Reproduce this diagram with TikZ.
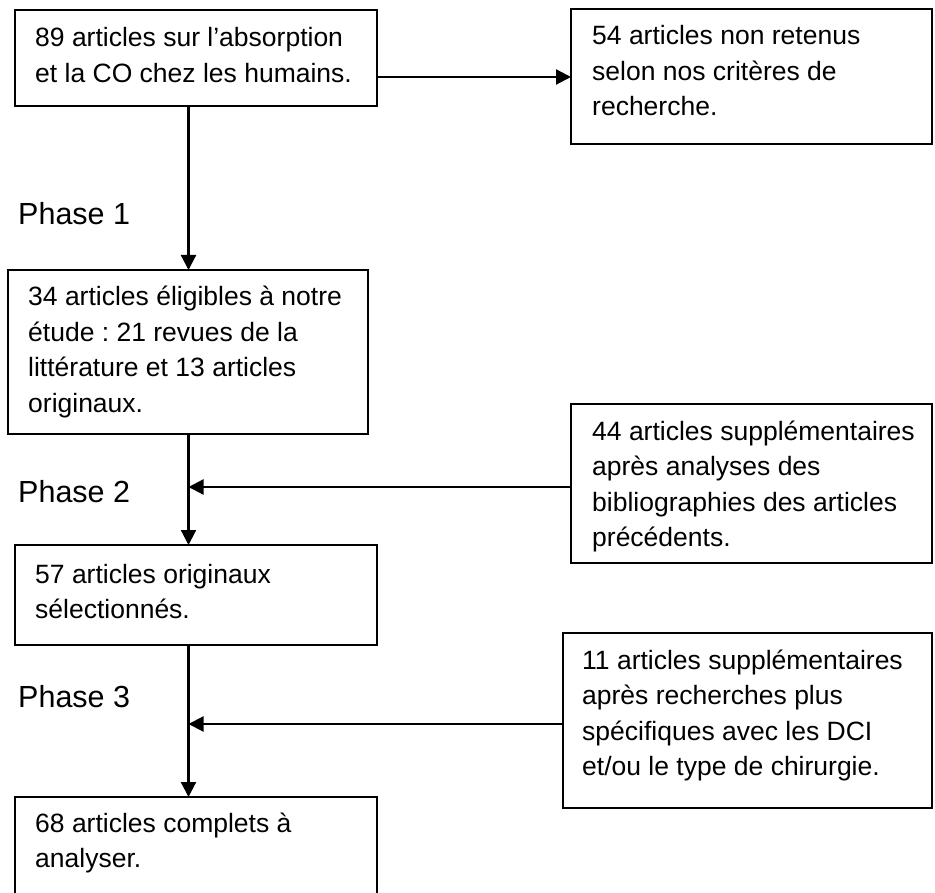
\documentclass[tikz,border=0pt]{standalone}
\usepackage{fontspec}
\setmainfont{Liberation Sans}
\usetikzlibrary{arrows.meta}
\frenchspacing
\begin{document}
\begin{tikzpicture}[x=1pt,y=-1pt,
  box/.style={draw, line width=2.2pt, anchor=north west, inner sep=0pt, outer sep=0pt},
  txt/.style={anchor=base west, inner sep=0pt, font=\fontsize{26.5}{35.5}\selectfont},
  phase/.style={anchor=base west, inner sep=0pt, font=\fontsize{30.5}{36}\selectfont},
  arr/.style={line width=2.2pt, -{Triangle[length=15pt,width=15pt]}}]
\useasboundingbox (0,0) rectangle (935,893);
\clip (0,0) rectangle (935,893);
% boxes
\node[box, minimum width=362pt, minimum height=96pt]  (A) at (15,10) {};
\node[box, minimum width=361pt, minimum height=135pt] (B) at (571,9) {};
\node[box, minimum width=360pt, minimum height=164pt] (C) at (8,270) {};
\node[box, minimum width=361pt, minimum height=159pt] (D) at (571,404) {};
\node[box, minimum width=362pt, minimum height=100pt] (E) at (15,545) {};
\node[box, minimum width=369pt, minimum height=175pt] (F) at (563,633) {};
\node[box, minimum width=362pt, minimum height=140pt] (G) at (15,797) {};
% texts
\node[txt] (tA) at (35,47) {\parbox[t]{360pt}{\raggedright 89 articles sur l’absorption\\et la CO chez les humains.}};
\node[txt] (tB) at (592,45) {\parbox[t]{340pt}{\raggedright 54 articles non retenus\\selon nos critères de\\recherche.}};
\node[txt] (tC) at (28,306) {\parbox[t]{360pt}{\raggedright 34 articles éligibles à notre\\étude : 21 revues de la\\littérature et 13 articles\\originaux.}};
\node[txt] (tD) at (592,440) {\parbox[t]{340pt}{\raggedright 44 articles supplémentaires\\après analyses des\\bibliographies des articles\\précédents.}};
\node[txt] (tE) at (35,583) {\parbox[t]{360pt}{\raggedright 57 articles originaux\\sélectionnés.}};
\node[txt] (tF) at (582,669) {\parbox[t]{350pt}{\raggedright 11 articles supplémentaires\\après recherches plus\\spécifiques avec les DCI\\et/ou le type de chirurgie.}};
\node[txt] (tG) at (35,832) {\parbox[t]{360pt}{\raggedright 68 articles complets à\\analyser.}};
% phase labels
\node[phase] (p1) at (18,225) {Phase 1};
\node[phase] (p2) at (18,502) {Phase 2};
\node[phase] (p3) at (18,707) {Phase 3};
% connectors
\coordinate (col) at (188.5,0);
\coordinate (yab) at (0,77);
\coordinate (j2) at (188.5,487);
\coordinate (j3) at (188.5,724);
\draw[arr] (A.east |- yab) -- (B.west |- yab);
\draw[arr] (A.south -| col) -- (C.north -| col);
\draw[arr] (C.south -| col) -- (E.north -| col);
\draw[arr] (E.south -| col) -- (G.north -| col);
\draw[arr] (D.west |- j2) -- (j2);
\draw[arr] (F.west |- j3) -- (j3);
\end{tikzpicture}
\end{document}
